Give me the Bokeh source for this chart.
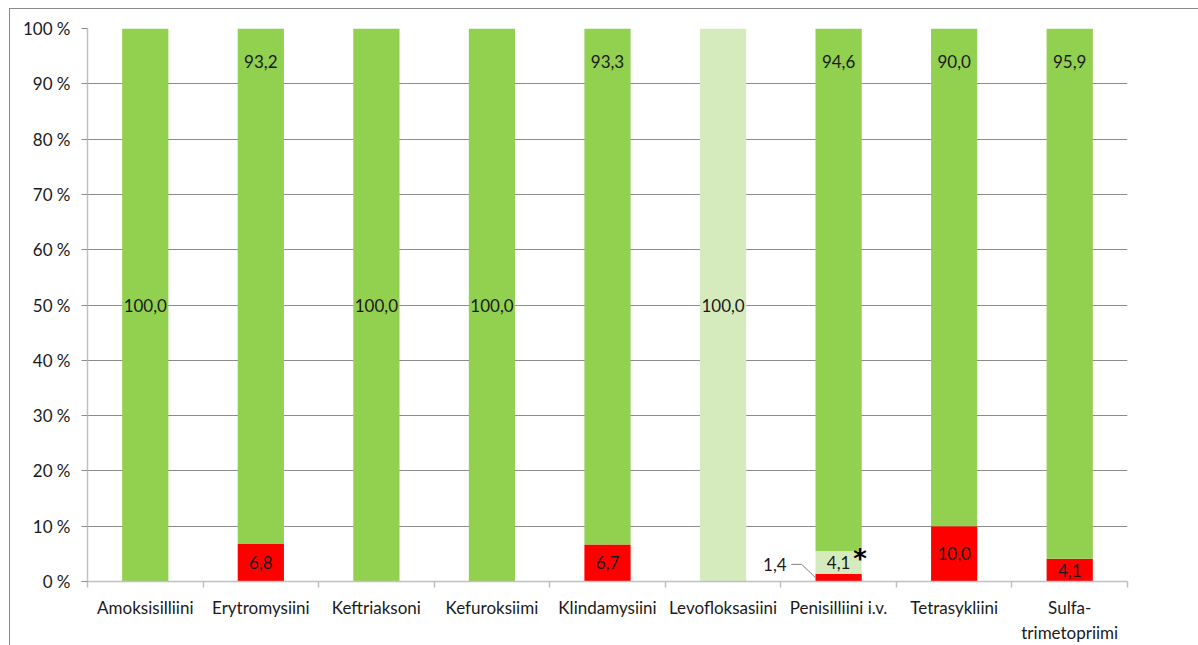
from bokeh.plotting import figure
from bokeh.models import (Range1d, LinearAxis, FixedTicker, Legend, LegendItem, ColumnDataSource)
from bokeh.core.properties import value
from bokeh.embed import file_html
from bokeh.resources import INLINE

# ---------------- data ----------------
categories = ["Amoksisilliini", "Erytromysiini", "Keftriaksoni", "Kefuroksiimi",
              "Klindamysiini", "Levofloksasiini", "Penisilliini i.v.", "Tetrasykliini",
              "Sulfa-\ntrimetopriimi"]
pct_R = [0.0, 6.8, 0.0, 0.0, 6.7, 0.0, 1.4, 10.0, 4.1]
pct_I = [0.0, 0.0, 0.0, 0.0, 0.0, 100.0, 4.1, 0.0, 0.0]
pct_S = [100.0, 93.2, 100.0, 100.0, 93.3, 0.0, 94.6, 90.0, 95.9]
series_keys = ["R", "I", "S"]
series_names = ["%R", "%I", "%S"]
series_colors = ["#FF0000", "#D5EBBE", "#92D050"]
y_ticks = [0, 10, 20, 30, 40, 50, 60, 70, 80, 90, 100]
y_tick_labels = ["0 %", "10 %", "20 %", "30 %", "40 %", "50 %", "60 %", "70 %", "80 %", "90 %", "100 %"]
note_category = "Penisilliini i.v."
note_text = "*"

FONT = "Lato"
FS = "17px"
TXT = "#1a1a1a"
GRID = "#8c8c8c"
AXIS = "#c0c0c0"
BORDER = "#8a8a8a"
BAR_W = 0.4
W, H = 1198, 645

n = len(categories)
centers = [i + 0.5 for i in range(n)]
edges = list(range(n + 1))

p = figure(x_range=Range1d(0, n), y_range=Range1d(0, 100),
           width=W, height=H, output_backend="svg", toolbar_location=None,
           x_axis_location=None, min_border_left=87, min_border_right=W - 87 - 1040,
           min_border_top=28, min_border_bottom=H - 28 - 554)
p.outline_line_color = None
p.border_fill_color = None
p.background_fill_color = None
line = f"linear-gradient({BORDER},{BORDER})"
p.styles = {"background": f"{line} 9px 8px / 1px 100% no-repeat, {line} 9px 8px / 100% 1px no-repeat, #ffffff"}
p.xgrid.visible = False
p.ygrid.grid_line_color = GRID
p.ygrid.ticker = FixedTicker(ticks=y_ticks)

# y axis
ya = p.yaxis[0]
ya.ticker = FixedTicker(ticks=y_ticks)
ya.major_label_overrides = {t: l for t, l in zip(y_ticks, y_tick_labels)}
ya.axis_line_color = AXIS
ya.axis_line_width = 1.5
ya.major_tick_line_color = GRID
ya.major_tick_out = 6
ya.major_tick_in = 0
ya.minor_tick_line_color = None
ya.major_label_standoff = 11
ya.major_label_text_font = FONT
ya.major_label_text_font_size = FS
ya.major_label_text_color = TXT

# x axis: labels at category centres, ticks at category boundaries
xa = LinearAxis(ticker=FixedTicker(ticks=centers, minor_ticks=edges),
                major_label_overrides={c: lab for c, lab in zip(centers, categories)},
                axis_line_color=AXIS, axis_line_width=1.5,
                major_tick_line_color=None, major_tick_out=0, major_tick_in=0,
                minor_tick_line_color=AXIS, minor_tick_line_width=1.5,
                minor_tick_out=6, minor_tick_in=0,
                major_label_text_font=FONT, major_label_text_font_size=FS,
                major_label_text_color=TXT, major_label_standoff=9)
p.add_layout(xa, "below")

# bars
src = ColumnDataSource(dict(x=centers, R=pct_R, I=pct_I, S=pct_S))
rs = p.vbar_stack(series_keys, x="x", width=BAR_W, fill_color=series_colors,
                  line_color=None, source=src)

# data labels
lx, ly, lt = [], [], []
ext = None
for i, c in enumerate(centers):
    base = 0.0
    for vals, key in zip([pct_R, pct_I, pct_S], series_keys):
        v = vals[i]
        if v > 0:
            txt = f"{v:.1f}".replace(".", ",")
            if v < 2:
                ext = (c, base + v / 2, txt)
            else:
                if key == "S" and v < 100:
                    y = 94.0
                else:
                    y = base + v / 2
                lx.append(c); ly.append(y); lt.append(txt)
        base += v
p.text(x="x", y="y", text="t", source=ColumnDataSource(dict(x=lx, y=ly, t=lt)),
       text_align="center", text_baseline="middle", text_font=value(FONT),
       text_font_size=FS, text_color=TXT)

# external label with leader line
if ext is not None:
    cx, yc, txt = ext
    p.line(x=[cx - BAR_W / 2, cx - 0.32, cx - 0.41], y=[yc, 3.1, 3.1],
           line_color="#7f7f7f", line_width=1)
    p.text(x=[cx - 0.45], y=[3.1], text=[txt],
           text_align="right", text_baseline="middle", text_font=value(FONT),
           text_font_size=FS, text_color=TXT)

# note mark
ni = centers[categories.index(note_category)]
p.text(x=[ni + 0.185], y=[4.15], text=[note_text],
       text_align="center", text_baseline="middle", text_font=value("DejaVu Sans"),
       text_font_size="26px", text_font_style="bold", text_color="#000000")

# legend
items = [LegendItem(label=nm, renderers=[r]) for nm, r in zip(series_names, rs)][::-1]
legend = Legend(items=items, location=(1074, 198), padding=0, margin=0,
                border_line_color=None, background_fill_alpha=0,
                glyph_width=11, glyph_height=11, label_standoff=6, spacing=19,
                label_height=20, label_text_font=FONT, label_text_font_size=FS,
                label_text_color=TXT)
p.add_layout(legend)

open("out.html", "w").write(file_html(p, INLINE))
